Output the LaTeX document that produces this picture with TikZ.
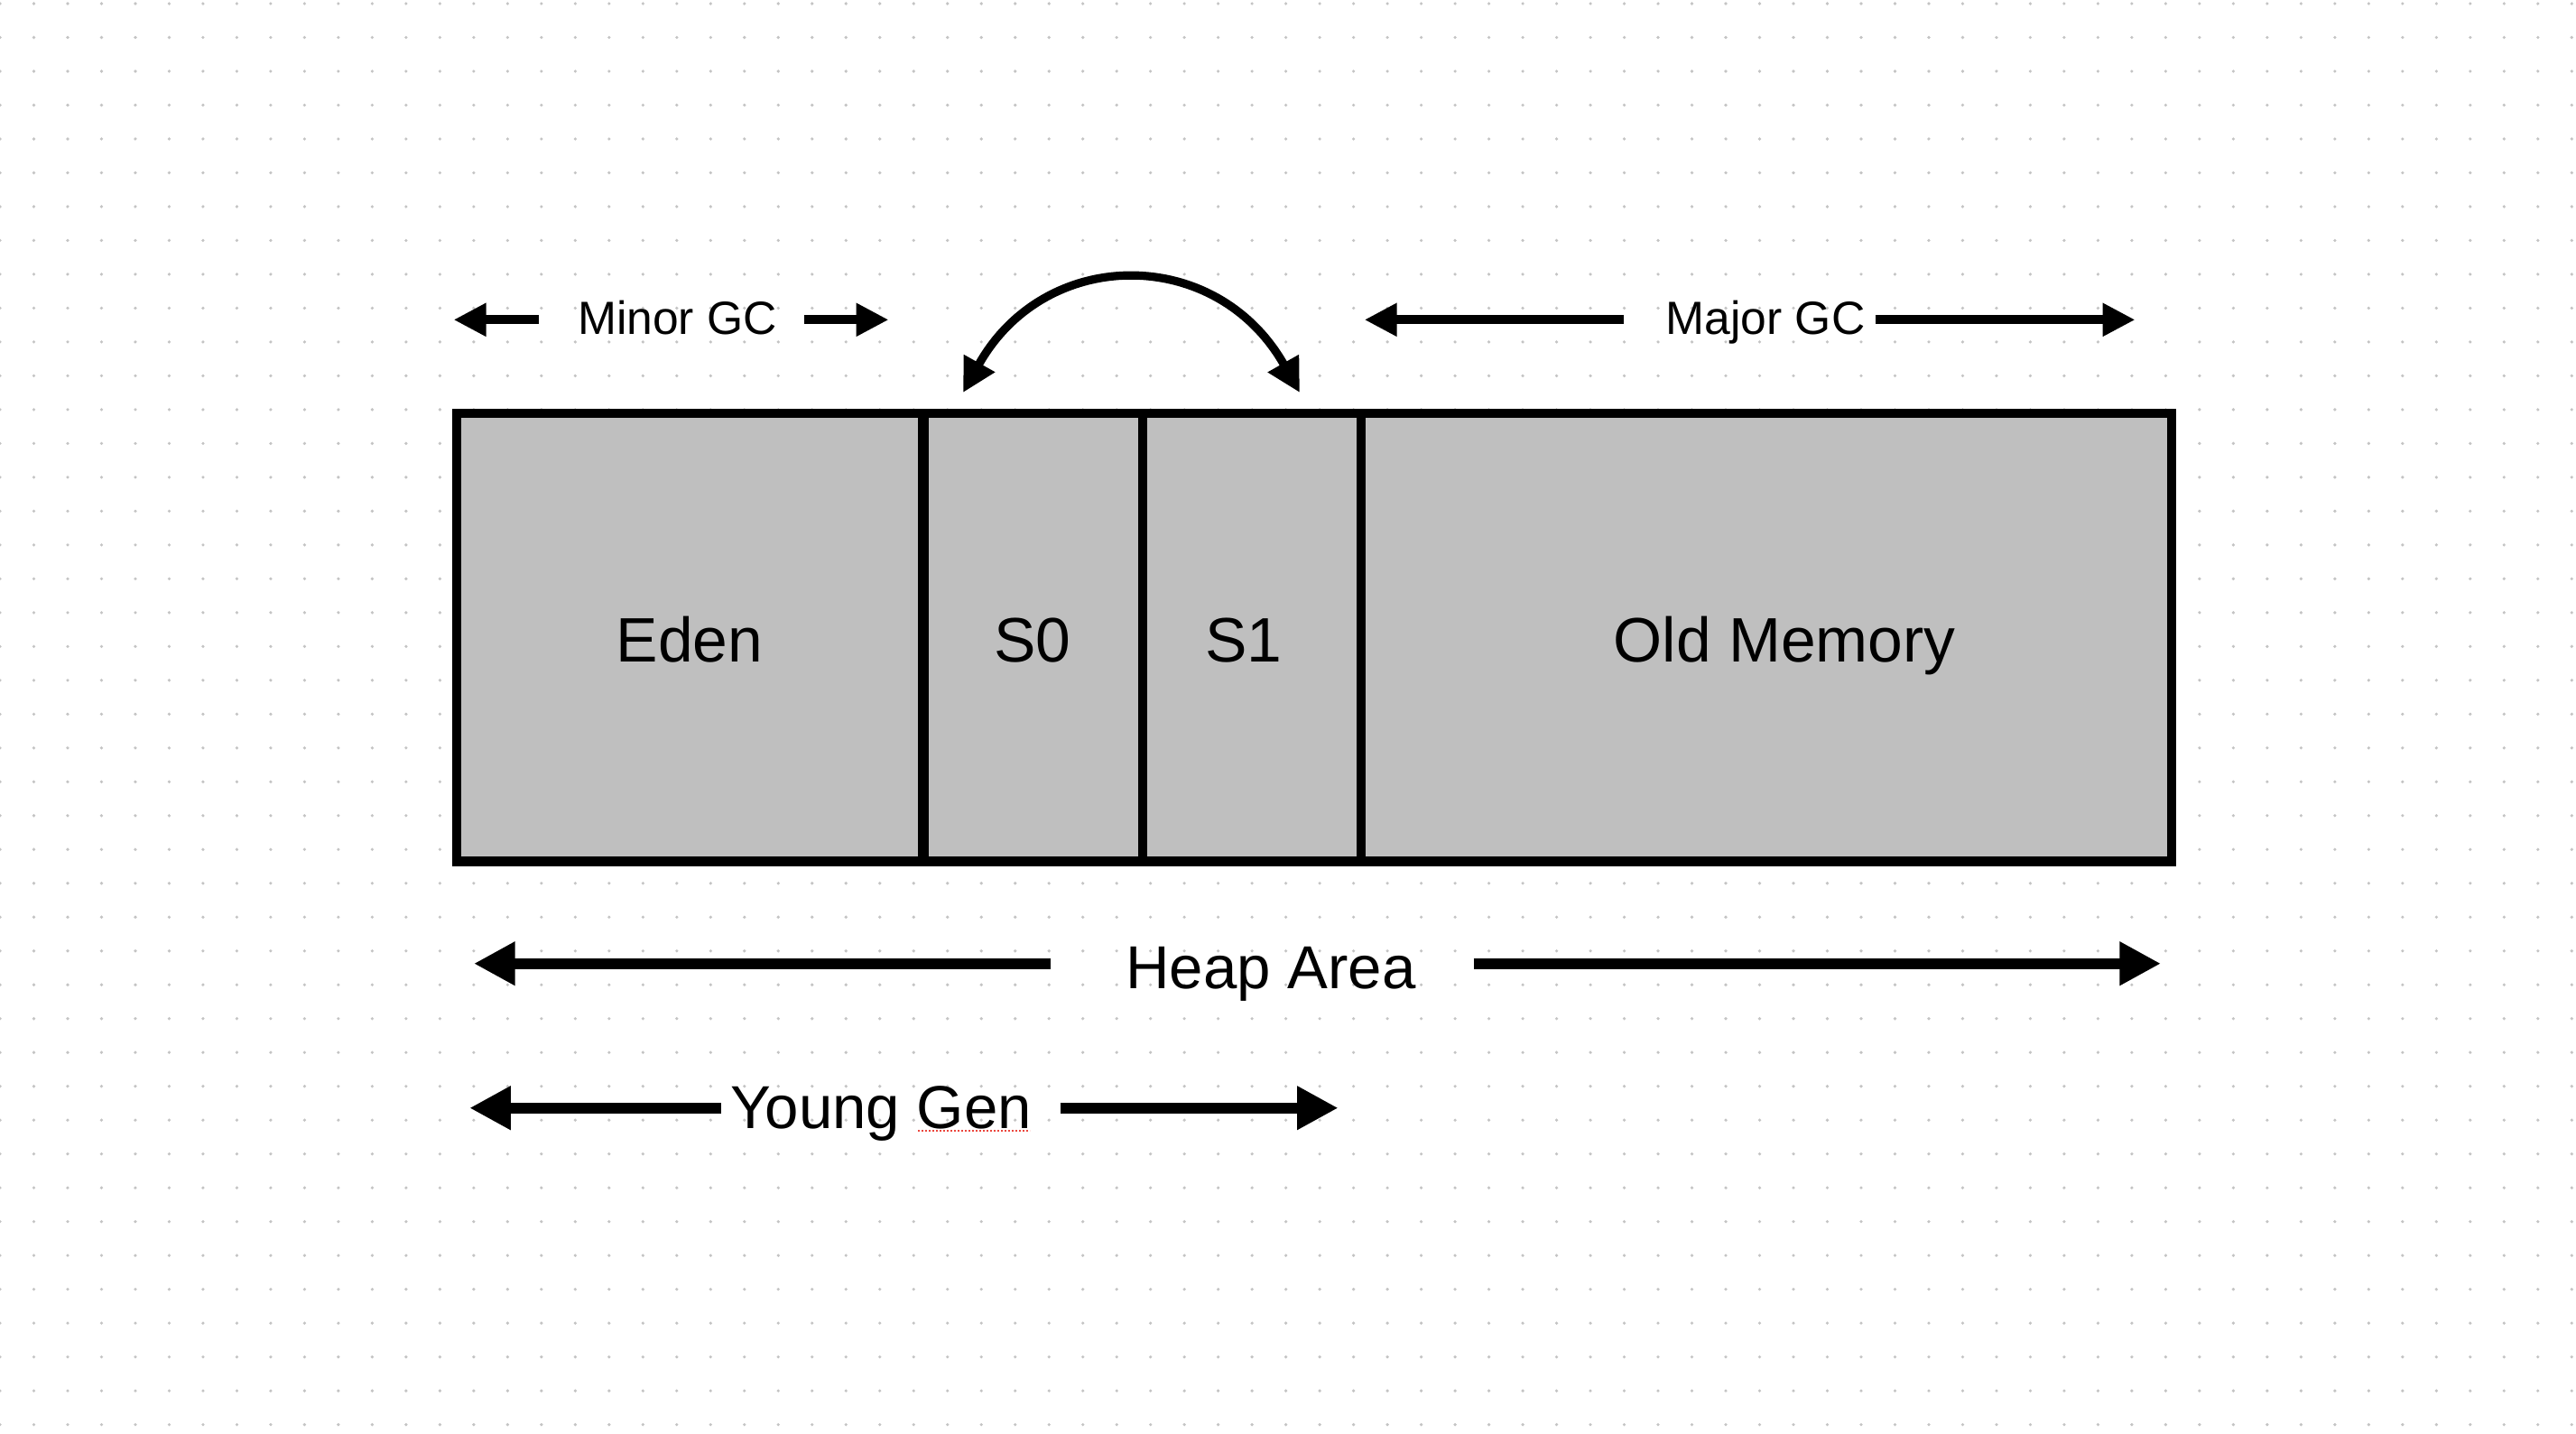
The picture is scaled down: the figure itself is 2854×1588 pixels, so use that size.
\documentclass[tikz,border=0pt]{standalone}
\usepackage{fontspec}
\setmainfont{Liberation Sans}
\usetikzlibrary{arrows.meta}
\definecolor{boxgray}{RGB}{191,191,191}
\definecolor{dotgray}{RGB}{196,196,196}
\definecolor{squig}{RGB}{235,70,60}
\tikzset{
  heapbox/.style={draw=black, fill=boxgray, line width=2.65pt},
  smallarrow/.style={line width=2.5pt, -{Triangle[length=9pt,width=8.7pt]}},
  bigarrow/.style={line width=2.9pt, -{Triangle[length=11.4pt,width=11.4pt]}},
  swaparrow/.style={line width=2.3pt, {Triangle[length=9.3pt,width=9.3pt]}-{Triangle[length=9.3pt,width=9.3pt]}},
  gclbl/.style={anchor=base, inner sep=0pt, font=\fontsize{12.9pt}{15pt}\selectfont},
  biglbl/.style={anchor=base, inner sep=0pt, font=\fontsize{17.4pt}{20pt}\selectfont},
  spanlbl/.style={anchor=base, inner sep=0pt, font=\fontsize{16.8pt}{20pt}\selectfont},
}
\begin{document}
\begin{tikzpicture}[x=0.25pt,y=-0.25pt]
  % canvas
  \fill[white] (0,0) rectangle (2854,1588);
  \useasboundingbox (0,0) rectangle (2854,1588);
  % dot grid
  \foreach \i in {0,...,76}{
    \foreach \j in {0,...,42}{
      \fill[dotgray] (\i*37.49, 4+\j*37.49) circle[radius=0.45pt];
    }
  }
  % heap boxes
  \draw[heapbox] (506,458) rectangle (1022,954.5);
  \draw[heapbox] (1024,458) rectangle (1266,954.5);
  \draw[heapbox] (1266,458) rectangle (1508,954.5);
  \draw[heapbox] (1508,458) rectangle (2406,954.5);
  % box labels
  \node[biglbl] (edenlbl) at (764,733.3) {Eden};
  \node[biglbl] (s0lbl) at (1144,733.3) {S0};
  \node[biglbl] (s1lbl) at (1378,733.3) {S1};
  \node[biglbl] (oldlbl) at (1977,733.3) {Old Memory};
  % top labels
  \node[gclbl] (minor) at (750.5,370.7) {Minor GC};
  \node[gclbl] (major) at (1956,370.7) {Major GC};
  % bottom labels
  \node[spanlbl] (heap) at (1408,1095) {Heap Area};
  \node[spanlbl] (young) at (976,1250.7) {Young Gen};
  % arrow end points
  \coordinate (minorLs) at (597.3,354.3);
  \coordinate (minorLt) at (502.6,354.3);
  \coordinate (minorRs) at (890.5,354.3);
  \coordinate (minorRt) at (984.5,354.3);
  \coordinate (majorLs) at (1799.3,354.3);
  \coordinate (majorLt) at (1511.7,354.3);
  \coordinate (majorRs) at (2077.9,354.3);
  \coordinate (majorRt) at (2365.5,354.3);
  \coordinate (heapLs) at (1164.1,1067.7);
  \coordinate (heapLt) at (525,1067.7);
  \coordinate (heapRs) at (1632.8,1067.7);
  \coordinate (heapRt) at (2394,1067.7);
  \coordinate (youngLs) at (798.7,1227.7);
  \coordinate (youngLt) at (520.2,1227.7);
  \coordinate (youngRs) at (1174.7,1227.7);
  \coordinate (youngRt) at (1482.6,1227.7);
  \coordinate (s0tip) at (1067,435);
  \coordinate (s1tip) at (1440,435);
  % arrows
  \draw[smallarrow] (minorLs) -- (minorLt);
  \draw[smallarrow] (minorRs) -- (minorRt);
  \draw[smallarrow] (majorLs) -- (majorLt);
  \draw[smallarrow] (majorRs) -- (majorRt);
  \draw[bigarrow] (heapLs) -- (heapLt);
  \draw[bigarrow] (heapRs) -- (heapRt);
  \draw[bigarrow] (youngLs) -- (youngLt);
  \draw[bigarrow] (youngRs) -- (youngRt);
  \draw[swaparrow] (s0tip) .. controls (1158,272) and (1348,272) .. (s1tip);
  % spell-check underline
  \coordinate (sqA) at (1017,1253);
  \coordinate (sqB) at (1141,1253);
  \draw[squig, line width=0.55pt, dash pattern=on 0.55pt off 0.45pt] (sqA) -- (sqB);
\end{tikzpicture}
\end{document}
